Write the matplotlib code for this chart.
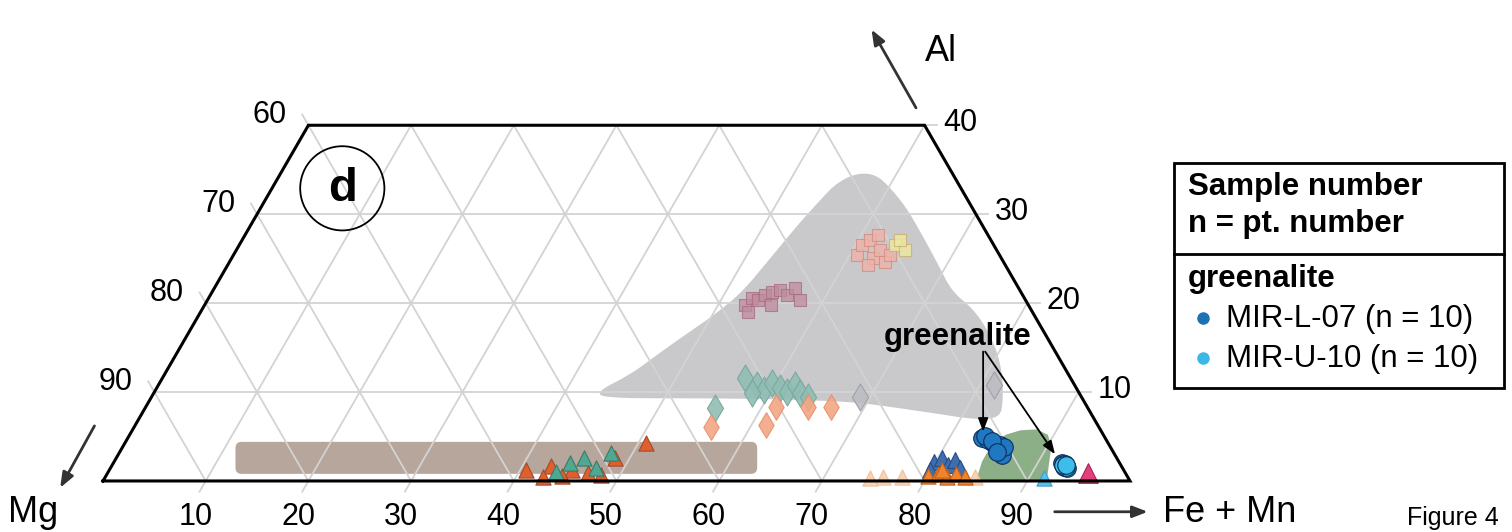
import numpy as np
import matplotlib.pyplot as plt
from matplotlib.patches import Polygon, FancyBboxPatch, Circle, Rectangle
from matplotlib.lines import Line2D

plt.rcParams['font.family'] = ['Liberation Sans', 'DejaVu Sans']

# --- data: (Fe+Mn, Al) in %, Mg = 100 - Fe - Al ---
mir_l07_fe = [83.2, 83.9, 84.5, 85.3, 85.8, 86.1, 85.8, 83.3, 84.3, 85.4]
mir_l07_al = [4.8, 4.6, 4.3, 4.05, 3.5, 2.9, 3.8, 5.1, 4.5, 3.3]
mir_u10_fe = [92.4, 92.7, 92.9, 93.1, 92.7, 92.5, 92.8, 93.0, 92.6, 92.9]
mir_u10_al = [2.0, 1.8, 1.7, 1.45, 1.9, 1.95, 1.6, 1.55, 1.85, 1.75]

# reference fields (outlines)
grey_fe = [42.9, 45.4, 47.0, 48.6, 50.2, 51.6, 52.4, 53.3, 54.0, 54.6, 56.0, 58.0, 60.4,
           63.0, 65.8, 69.1, 72.0, 75.3, 78.7, 81.3, 83.1, 83.8, 81.5, 77.2, 71.4, 68.3,
           61.3, 53.5, 44.7]
grey_al = [9.9, 12.0, 14.4, 16.6, 18.7, 21.2, 24.8, 29.0, 31.4, 33.4, 34.6, 34.5, 32.8,
           30.6, 27.8, 24.4, 21.3, 19.2, 15.9, 12.5, 9.1, 7.1, 6.9, 7.6, 8.5, 8.9,
           9.2, 9.3, 9.3]
green_fe = [85.0, 84.5, 84.5, 85.3, 86.5, 88.0, 89.4, 90.4, 91.2, 91.9]
green_al = [0.0, 2.2, 4.1, 5.2, 5.7, 5.8, 5.2, 3.9, 1.8, 0.0]
band_fe = [12.5, 63.3]   # at lower band edge
band_al = [0.8, 4.4]

# other minerals (faded background data)
teal_dia_fe = [56.7, 58.3, 59.3, 59.6, 60.7, 61.6, 62.0, 62.9, 58.2, 63.9, 55.5]
teal_dia_al = [11.6, 10.8, 10.2, 11.0, 10.5, 10.0, 10.8, 9.9, 9.9, 9.4, 8.2]
grey_dia_fe = [69.0, 81.4]
grey_dia_al = [9.4, 10.8]
orange_dia_fe = [61.4, 64.5, 66.7, 56.2, 61.4]
orange_dia_al = [8.3, 8.3, 8.3, 6.1, 6.3]
mauve_sq_fe = [52.6, 52.9, 53.6, 54.0, 54.5, 55.2, 56.2, 56.5, 57.7, 55.1, 53.3]
mauve_sq_al = [19.8, 20.6, 20.4, 20.9, 21.3, 21.5, 20.9, 21.7, 20.4, 19.8, 19.0]
pink_sq_fe = [60.7, 60.7, 61.1, 62.4, 62.7, 63.8, 61.6, 62.3, 63.9]
pink_sq_al = [25.4, 26.5, 27.1, 25.1, 26.0, 24.6, 27.7, 24.3, 25.4]
yellow_sq_fe = [63.9, 65.1, 64.1]
yellow_sq_al = [26.5, 26.0, 27.1]
red_tri_fe = [40.6, 42.8, 45.1, 46.8, 48.1, 48.6, 50.7, 42.6, 44.4]
red_tri_al = [1.2, 1.7, 1.2, 0.9, 0.7, 2.6, 4.3, 0.45, 0.55]
teal_tri_fe = [44.5, 45.5, 47.9, 43.6, 47.3]
teal_tri_al = [2.0, 2.6, 3.15, 1.0, 1.45]
lorange_tri_fe = [75.7, 77.6, 84.7, 74.5]
lorange_tri_al = [0.45, 0.45, 0.45, 0.35]
blue_tri_fe = [79.9, 80.4, 81.4, 81.8, 82.7, 79.9]
blue_tri_al = [2.1, 2.6, 1.8, 2.4, 1.5, 1.2]
orange_tri_fe = [80.1, 80.9, 82.0, 82.7, 83.7, 81.1]
orange_tri_al = [0.55, 0.8, 0.45, 0.8, 0.45, 1.2]
lblue_tri_fe = [91.5]
lblue_tri_al = [0.35]
pink_tri_fe = [95.5]
pink_tri_al = [0.9]

grid_vals = [10, 20, 30, 40, 50, 60, 70, 80, 90]
al_max = 40
S3 = np.sqrt(3) / 2


def tern(fe, al):
    fe = np.asarray(fe, float)
    al = np.asarray(al, float)
    return fe + al / 2, al * S3


def chaikin(pts, n=3):
    # rounds the corners of a closed outline
    for _ in range(n):
        nxt = np.roll(pts, -1, axis=0)
        q = 0.75 * pts + 0.25 * nxt
        r = 0.25 * pts + 0.75 * nxt
        pts = np.empty((2 * len(pts), 2))
        pts[0::2] = q
        pts[1::2] = r
    return pts


W, H = 1512, 532
fig = plt.figure(figsize=(W / 100, H / 100), dpi=100)
ax = fig.add_axes([0, 0, 1, 1])
ax.set_xlim(-10.03, 137.2)
ax.set_ylim(-4.97, 46.84)
ax.axis('off')

def fx(px):
    return px / W

def fy(py):
    return 1 - py / H

# fields
gx, gy = tern(grey_fe, grey_al)
ax.add_patch(Polygon(chaikin(np.column_stack([gx, gy])), closed=True, fc='#c9c9cc',
                     ec='none', zorder=1))
ex, ey = tern(green_fe, green_al)
ax.add_patch(Polygon(np.column_stack([ex, ey]), closed=True, fc='#8caf88', ec='none',
                     joinstyle='round', zorder=1))
bx0, by0 = tern(band_fe[0], band_al[0])
bx1, by1 = tern(band_fe[1], band_al[1])
bx1 = bx1 - (band_al[1] - band_al[0]) / 2
ax.add_patch(FancyBboxPatch((bx0, by0), bx1 - bx0, by1 - by0,
                            boxstyle='round,pad=0,rounding_size=0.6',
                            fc='#b6a69c', ec='none', zorder=1))

# grid + ticks
gc = '#d3d3d3'
tk = 1.2
for v in grid_vals:
    # constant Al
    if v < al_max:
        x, y = tern([0, 100 - v], [v, v])
        ax.plot(x, y, color=gc, lw=1.3, zorder=2)
    # constant Fe
    x, y = tern([v, v], [-tk, min(al_max, 100 - v)])
    ax.plot(x, y, color=gc, lw=1.3, zorder=2)
    # constant Mg
    m = v
    top_al = min(al_max, 100 - m)
    lo_fe = 100 - m - top_al
    if 100 - m <= al_max:
        x, y = tern([100 - m, -tk], [0, 100 - m + tk])
    else:
        x, y = tern([100 - m, lo_fe], [0, top_al])
    ax.plot(x, y, color=gc, lw=1.3, zorder=2)
for a in [10, 20, 30, 40]:
    x, y = tern([100 - a, 100 - a + tk], [a, a])
    ax.plot(x, y, color=gc, lw=1.3, zorder=2)

# background data markers
def sc(fe, al, marker, s, fc, ec, alpha=1.0, z=3):
    x, y = tern(fe, al)
    ax.scatter(x, y, marker=marker, s=s, c=fc, edgecolors=ec, linewidths=0.8,
               alpha=alpha, zorder=z)

sc(mauve_sq_fe, mauve_sq_al, 's', 70, '#c08c9c', '#a86a82', 0.75)
sc(pink_sq_fe, pink_sq_al, 's', 70, '#eeb2aa', '#d48e80', 0.8)
sc(yellow_sq_fe, yellow_sq_al, 's', 70, '#efeaa0', '#c8b070', 0.8)
sc(teal_dia_fe, teal_dia_al, 'd', 190, '#90bdb3', '#78a69c', 0.9)
sc(grey_dia_fe, grey_dia_al, 'd', 190, '#bcbcc4', '#9c9ca6', 0.9)
sc(orange_dia_fe, orange_dia_al, 'd', 170, '#f3a784', '#e58f6c', 0.9)
sc(lorange_tri_fe, lorange_tri_al, '^', 120, '#f8d0b0', '#f0bc98', 0.9)
sc(red_tri_fe, red_tri_al, '^', 120, '#e0602c', '#a04a30')
sc(teal_tri_fe, teal_tri_al, '^', 120, '#4fa88f', '#3a7a6a')
sc(blue_tri_fe, blue_tri_al, '^', 130, '#3b6fb0', '#2a4a80')
sc(orange_tri_fe, orange_tri_al, '^', 120, '#f0842a', '#c06020')
sc(lblue_tri_fe, lblue_tri_al, '^', 120, '#5cc0e8', '#3aa0d0')
sc(pink_tri_fe, pink_tri_al, '^', 200, '#e0407c', '#b02050')

# greenalite
sc(mir_l07_fe, mir_l07_al, 'o', 160, '#1f78c1', '#0d2f5a', z=5)
sc(mir_u10_fe, mir_u10_al, 'o', 160, '#3dbde9', '#0d2f5a', z=5)

# frame
fx_, fy_ = tern([0, 100, 100 - al_max, 0, 0], [0, 0, al_max, al_max, 0])
ax.plot(fx_, fy_, color='black', lw=2.2, zorder=6, solid_joinstyle='miter')

# tick labels
for v in grid_vals:
    x, y = tern(v, 0)
    ax.text(x - 1.0, -3.5, str(v), ha='center', va='center', fontsize=22)
for a in [10, 20, 30, 40]:
    x, y = tern(0, a)
    ax.text(x - 3.8, y + 1.0, str(100 - a), ha='center', va='center', fontsize=22)
    x, y = tern(100 - a, a)
    ax.text(x + 3.5, y + 0.2, str(a), ha='center', va='center', fontsize=22)

ax.text(-6.8, -3.1, 'Mg', ha='center', va='center', fontsize=26)
ax.text(103.2, -3.1, 'Fe + Mn', ha='left', va='center', fontsize=26)
ax.text(81.6, 41.8, 'Al', ha='center', va='center', fontsize=26)

arr = dict(arrowstyle='-|>,head_length=0.9,head_width=0.35', color='#333333', lw=2)
ax.annotate('', xy=(74.7, 44.2), xytext=(79.3, 36.1), arrowprops=arr)
ax.annotate('', xy=(-4.3, -0.9), xytext=(-0.7, 5.6), arrowprops=arr)
ax.annotate('', xy=(102.0, -3.0), xytext=(92.4, -3.0), arrowprops=arr)

# panel letter
ax.add_patch(Circle((23.3, 28.5), 4.1, fill=False, ec='black', lw=1.3, zorder=7))
ax.text(23.3, 28.4, 'd', ha='center', va='center', fontsize=34, fontweight='bold')

# greenalite call-out
ax.text(83.25, 14.0, 'greenalite', ha='center', va='center', fontsize=22.5,
        fontweight='bold', zorder=8)
arr2 = dict(arrowstyle='-|>,head_length=0.8,head_width=0.3', color='black', lw=1.3,
            shrinkA=0, shrinkB=0)
ax.annotate('', xy=(85.7, 4.8), xytext=(85.7, 12.6), arrowprops=arr2, zorder=8)
ax.annotate('', xy=(92.7, 2.6), xytext=(85.9, 12.6), arrowprops=arr2, zorder=8)

# legend box
fig.add_artist(Rectangle((fx(1174), fy(388)), fx(1504) - fx(1174), fy(163) - fy(388),
                         transform=fig.transFigure, fill=False, ec='black', lw=2))
fig.add_artist(Line2D([fx(1174), fx(1504)], [fy(254), fy(254)],
                      transform=fig.transFigure, color='black', lw=2))
lf = 22.5
fig.text(fx(1188), fy(195), 'Sample number', fontsize=lf, fontweight='bold', va='baseline')
fig.text(fx(1188), fy(232), 'n = pt. number', fontsize=lf, fontweight='bold', va='baseline')
fig.text(fx(1188), fy(287), 'greenalite', fontsize=lf, fontweight='bold', va='baseline')
fig.text(fx(1226), fy(327), 'MIR-L-07 (n = 10)', fontsize=lf, va='baseline')
fig.text(fx(1226), fy(367), 'MIR-U-10 (n = 10)', fontsize=lf, va='baseline')
fig.add_artist(Line2D([fx(1203)], [fy(318)], marker='o', ms=8, color='#1a74b4',
                      transform=fig.transFigure))
fig.add_artist(Line2D([fx(1203)], [fy(358)], marker='o', ms=8, color='#3ab8e8',
                      transform=fig.transFigure))

fig.text(fx(1407), fy(530), 'Figure 4', fontsize=18, va='bottom')

fig.savefig('out.png', dpi=100)
